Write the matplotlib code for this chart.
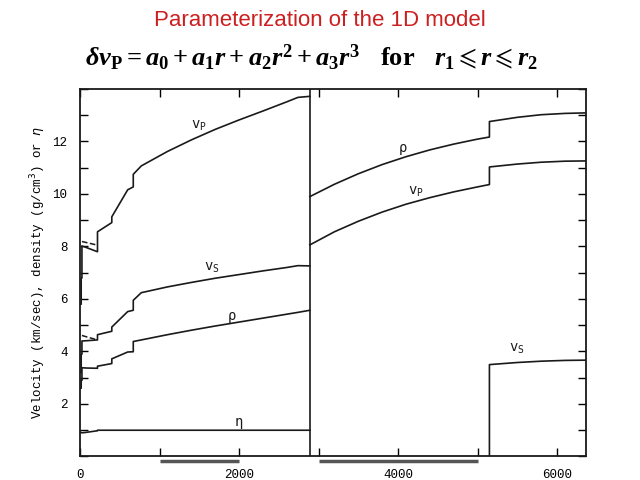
import matplotlib
matplotlib.use('Agg')
import matplotlib.pyplot as plt
import matplotlib.transforms as mtransforms

# depth (km) and model values (PREM-like)
CMB = 2891
ICB = 5150

depth_m = [0, 15, 15, 24.4, 24.4, 80, 220, 220, 400, 400, 600, 670, 670, 771,
           1100, 1400, 1700, 2000, 2300, 2600, 2741, 2891]
vp_m = [5.80, 5.80, 6.80, 6.80, 8.02, 7.96, 7.80, 8.56, 8.91, 9.13, 10.16, 10.27,
        10.75, 11.07, 11.62, 12.06, 12.46, 12.82, 13.16, 13.51, 13.68, 13.72]
vs_m = [3.20, 3.20, 3.90, 3.90, 4.40, 4.41, 4.44, 4.64, 4.77, 4.93, 5.52, 5.57,
        5.95, 6.24, 6.46, 6.63, 6.79, 6.93, 7.07, 7.20, 7.27, 7.26]
rho_m = [2.60, 2.60, 2.90, 2.90, 3.38, 3.37, 3.36, 3.44, 3.54, 3.72, 3.98, 3.99,
         4.38, 4.44, 4.64, 4.81, 4.97, 5.12, 5.27, 5.42, 5.49, 5.57]

# horizontal components in the anisotropic lid (dashed)
depth_lid = [24.4, 80, 220]
vph_lid = [8.19, 8.15, 8.05]
vsh_lid = [4.61, 4.56, 4.44]

depth_eta = [0, 24.4, 80, 220, 220, 2891]
eta = [0.93, 0.90, 0.92, 0.98, 1.00, 1.00]

depth_oc = [2891, 3200, 3500, 3800, 4100, 4400, 4700, 5000, 5150]
vp_oc = [8.06, 8.56, 8.96, 9.31, 9.61, 9.86, 10.08, 10.27, 10.36]
rho_oc = [9.90, 10.37, 10.77, 11.12, 11.42, 11.68, 11.90, 12.09, 12.17]

depth_ic = [5150, 5500, 5800, 6100, 6371]
vp_ic = [11.03, 11.14, 11.21, 11.25, 11.26]
rho_ic = [12.76, 12.92, 13.02, 13.07, 13.09]
vs_ic = [3.50, 3.58, 3.63, 3.66, 3.67]

scale_bars = [(1000, 2000), (3000, 5000)]

curve_labels = [
    (r'$\mathtt{v_P}$', 1500, 12.6),
    (r'$\mathtt{v_S}$', 1660, 7.2),
    (r'$\mathtt{\rho}$', 1910, 5.3),
    (r'$\mathtt{\eta}$', 2000, 1.25),
    (r'$\mathtt{\rho}$', 4060, 11.7),
    (r'$\mathtt{v_P}$', 4225, 10.1),
    (r'$\mathtt{v_S}$', 5500, 4.1),
]

ink = '#1a1a1a'
mono = 'Liberation Mono'

fig = plt.figure(figsize=(6.4, 4.8), dpi=100)
ax = fig.add_axes([0.125, 0.049, 0.7914, 0.7656])

ax.plot(depth_m, vp_m, color=ink, lw=1.2)
ax.plot(depth_m, vs_m, color=ink, lw=1.2)
ax.plot(depth_m, rho_m, color=ink, lw=1.2)
ax.plot(depth_lid, vph_lid, '--', color=ink, lw=1.1)
ax.plot(depth_lid, vsh_lid, '--', color=ink, lw=1.1)
ax.plot(depth_eta, eta, color=ink, lw=1.2)
ax.axvline(CMB, color=ink, lw=1.2)
ax.plot(depth_oc + depth_ic, vp_oc + vp_ic, color=ink, lw=1.2)
ax.plot(depth_oc + depth_ic, rho_oc + rho_ic, color=ink, lw=1.2)
ax.plot([ICB] + depth_ic, [0.0] + vs_ic, color=ink, lw=1.2)

for txt, x, y in curve_labels:
    ax.text(x, y, txt, fontsize=10, color=ink, ha='center', va='center')

ax.set_xlim(0, 6371)
ax.set_ylim(0, 14)
ax.set_xticks(range(0, 7000, 1000))
ax.set_xticklabels(['0', '', '2000', '', '4000', '', '6000'], family=mono, fontsize=9)
ax.set_yticks(range(0, 15))
ax.set_yticklabels([str(v) if v % 2 == 0 and 0 < v < 14 else '' for v in range(0, 15)],
                   family=mono, fontsize=9)
ax.tick_params(direction='in', top=True, right=True, length=6, width=1, pad=9)
for s in ax.spines.values():
    s.set_linewidth(1.3)
    s.set_color(ink)

trans = mtransforms.blended_transform_factory(ax.transData, ax.transAxes)
for x0, x1 in scale_bars:
    ax.plot([x0, x1], [-0.012, -0.012], color='#555555', lw=2.5,
            transform=trans, clip_on=False, solid_capstyle='butt')

ax.set_ylabel(r'Velocity (km/sec), density (g/cm$^3$) or $\eta$', family=mono,
              fontsize=9, labelpad=3)

plt.rcParams['mathtext.fontset'] = 'custom'
plt.rcParams['mathtext.rm'] = 'Liberation Serif:bold'
plt.rcParams['mathtext.it'] = 'Liberation Serif:italic:bold'
plt.rcParams['mathtext.bf'] = 'Liberation Serif:bold'
plt.rcParams['mathtext.fallback'] = 'stix'

fig.text(0.5, 0.957, 'Parameterization of the 1D model', ha='center', va='center',
         color='#cc2020', fontsize=16, family='Liberation Sans')
fig.text(0.487, 0.88,
         r'$\delta v_\mathrm{P} = a_0 + a_1r + a_2r^2 + a_3r^3\quad\mathrm{for}\quad r_1 \leqslant r \leqslant r_2$',
         ha='center', va='center', fontsize=19, color='black')

fig.savefig('out.png', dpi=100)
